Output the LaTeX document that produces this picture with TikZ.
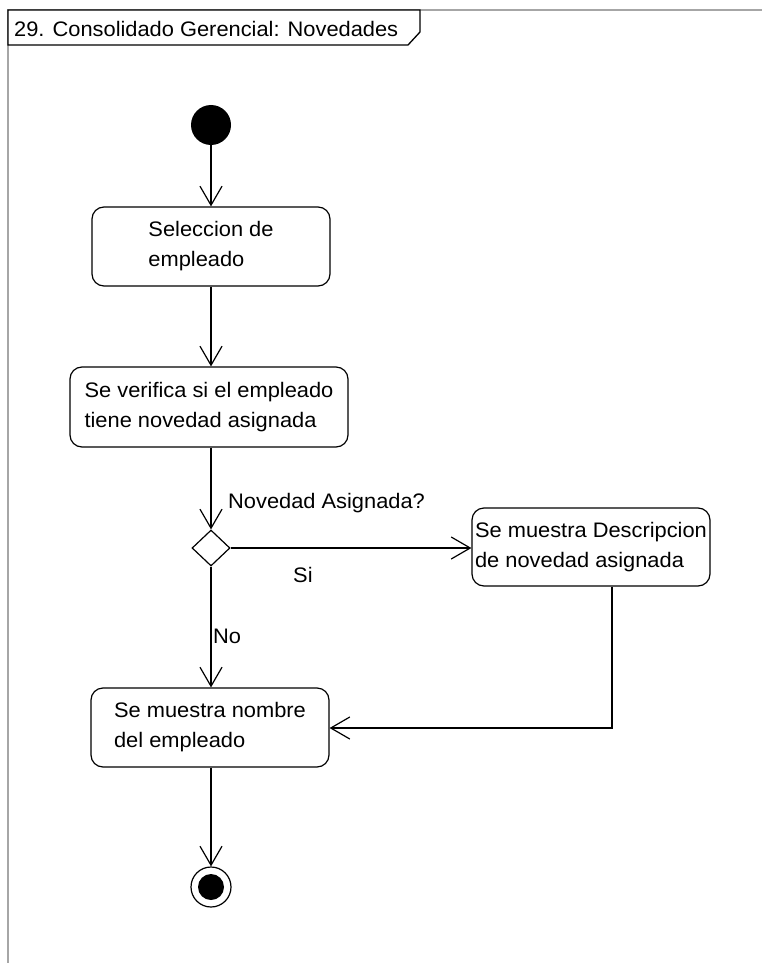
\documentclass[tikz,border=0pt]{standalone}
\usepackage{fontspec}
\setmainfont{Liberation Sans}[FakeStretch=1.04]
\usetikzlibrary{arrows.meta,shapes.geometric}
\begin{document}
\begin{tikzpicture}[x=1pt,y=-1pt,
  txt/.style={font=\fontsize{21}{30}\selectfont},
  actbox/.style={draw,rounded corners=12pt,line width=1.2pt,inner sep=0pt,align=left,txt},
  arr/.style={line width=1.2pt,-{Straight Barb[length=19pt,width=22pt,line width=1.2pt]}},
  lbl/.style={anchor=base west,inner sep=0pt,txt}]
\useasboundingbox (0,0) rectangle (762,963);
% frame
\draw[gray!70,line width=1.5pt] (762,10) -- (8,10) -- (8,963);
\draw[line width=1.3pt,fill=white] (8,10) -- (420,10) -- (420,32) -- (408,45) -- (8,45) -- cycle;
\node[lbl] (title) at (14,37) {29. Consolidado Gerencial: Novedades};
% nodes
\node[circle,fill,minimum size=40pt,inner sep=0pt] (init) at (211,125) {};
\node[actbox,minimum width=238pt,minimum height=79pt] (b1) at (211,246.5) {Seleccion de\\empleado};
\node[actbox,minimum width=278pt,minimum height=80pt] (b2) at (209,407) {Se verifica si el empleado\\tiene novedad asignada};
\node[diamond,draw,line width=1.2pt,minimum width=38pt,minimum height=36pt,inner sep=0pt] (dec) at (211,548) {};
\node[actbox,minimum width=238pt,minimum height=78pt] (b3) at (591,547) {Se muestra Descripcion\\de novedad asignada};
\node[actbox,minimum width=238pt,minimum height=79pt] (b4) at (210,727.5) {Se muestra nombre\\del empleado};
\node[circle,draw,line width=1.2pt,minimum size=40pt,inner sep=0pt] (fin) at (211,887) {};
\node[circle,fill,minimum size=26pt,inner sep=0pt] (finin) at (fin.center) {};
\coordinate (bend) at (612,728);
% labels
\node[lbl] (lq) at (228,508) {Novedad Asignada?};
\node[lbl] (lsi) at (293,582) {Si};
\node[lbl] (lno) at (213,643) {No};
% connectors
\draw[arr] (init) -- (b1.north -| init);
\draw[arr] (b1.south -| init) -- (b2.north -| init);
\draw[arr] (b2.south -| dec) -- (dec.north);
\draw[arr] (dec.east) -- (b3.west |- dec.east);
\draw[arr] (dec.south) -- (b4.north -| dec);
\draw[arr] (b3.south -| bend) -- (bend) -- (b4.east |- bend);
\draw[arr] (b4.south -| fin) -- (fin.north);
\end{tikzpicture}
\end{document}
